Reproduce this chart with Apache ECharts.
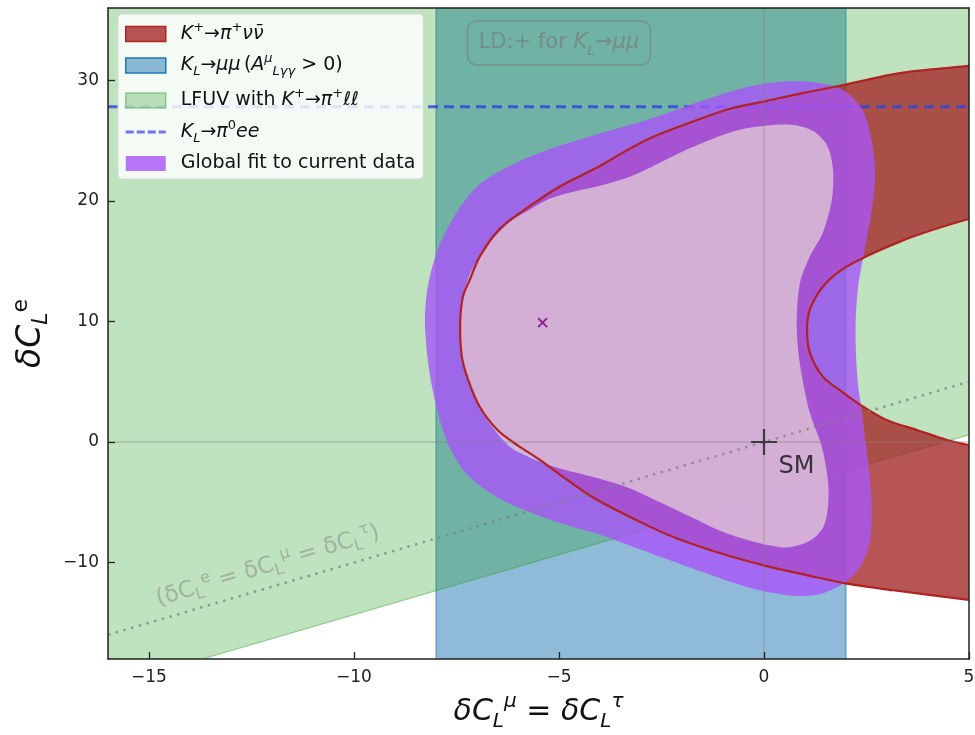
<!DOCTYPE html>
<html><head><meta charset="utf-8">
<script src="https://cdn.jsdelivr.net/npm/echarts@6/dist/echarts.min.js"></script>
<style>html,body{margin:0;padding:0;background:#fff}#c{width:975px;height:735px}</style>
</head><body><div id="c"></div>
<script>
// ---------- data ----------
const xRange = [-16, 5];
const yRange = [-18, 36];
const xTicks = [-15, -10, -5, 0, 5];
const yTicks = [-10, 0, 10, 20, 30];

// K+ -> pi+ nu nubar allowed band: outer and inner contours
const kpnnOuter = [[5.6,31.5],[5,31.2],[3.32,30.6],[1.78,29.5],[0.88,28.9],[0.07,28.3],[-0.76,27.7],[-1.56,26.8],[-2.78,25.2],[-3.5,23.9],[-4.0,22.9],[-4.98,21.2],[-5.7,19.6],[-6.44,17.7],[-6.93,15.4],[-7.17,13.5],[-7.34,12.1],[-7.41,9.9],[-7.37,7.1],[-7.22,5.2],[-6.93,2.9],[-6.5,1.0],[-6.0,-0.3],[-5.5,-1.4],[-4.98,-2.7],[-4.17,-4.6],[-2.95,-6.75],[-2.12,-8],[-0.9,-9.4],[0.02,-10.25],[1.12,-11.1],[2.02,-11.75],[3.15,-12.3],[5,-13.1],[5.6,-13.4]];
const kpnnInner = [[5.6,-0.6],[5,-0.25],[4.46,0.17],[3.73,1.0],[3.0,1.8],[2.34,3.1],[1.93,4.1],[1.44,5.4],[1.12,7.4],[1.05,9.3],[1.12,11],[1.44,12.9],[1.9,14.3],[2.5,15.4],[3.3,16.6],[4.12,17.6],[5,18.5],[5.6,19.0]];

// K_L -> mu mu band in dC_L^mu
const klmumuBand = [-8, 2];
// LFUV lower edge
const lfuvEdge = [[-13.7, -18], [5, 0.6]];
// K_L -> pi0 e e bound
const klpi0eeLevel = 27.8;

// global fit contours
const globalOuter = [[-8.27,10.2],[-8.22,7.4],[-8.12,5.0],[-7.95,2.4],[-7.7,-0.2],[-7.24,-2.7],[-6.5,-4.6],[-5.5,-6.1],[-4.7,-7.0],[-4.0,-7.67],[-3.34,-8.5],[-2.54,-9.5],[-1.73,-10.5],[-0.9,-11.5],[-0.1,-12.3],[0.71,-12.75],[1.37,-12.6],[1.93,-11.75],[2.34,-10.4],[2.59,-8.2],[2.63,-5.4],[2.59,-3.2],[2.49,-0.4],[2.39,2.4],[2.29,4.9],[2.24,7.7],[2.24,10.4],[2.31,13.25],[2.46,16],[2.63,19.3],[2.71,22.1],[2.63,24.9],[2.41,27.5],[1.93,29.2],[1.29,29.8],[0.46,29.9],[-0.34,29.5],[-1.56,28.25],[-2.78,26.8],[-4.0,25.6],[-5.22,24.3],[-6.2,22.9],[-7.0,21.2],[-7.59,18.5],[-7.98,15.75],[-8.2,12.9]];
const globalInner = [[-4.0,21.25],[-3.2,22.1],[-1.98,24.1],[-0.76,25.75],[0.07,26.25],[0.71,26.3],[1.2,25.8],[1.54,24.6],[1.68,22.7],[1.66,20.2],[1.44,17.4],[1.12,15.4],[0.88,13.25],[0.8,10.4],[0.83,7.7],[0.95,5.0],[1.12,2.4],[1.41,-0.4],[1.56,-3.2],[1.56,-5.4],[1.44,-7.1],[1.12,-8.2],[0.56,-8.75],[-0.1,-8.4],[-0.9,-7.6],[-1.73,-6.3],[-2.54,-5.0],[-3.34,-3.75],[-4.17,-2.9],[-4.98,-2.2],[-5.7,-1.3],[-6.2,-0.4],[-6.68,1.5],[-7.0,3.3],[-7.22,5.2],[-7.37,7.1],[-7.41,9.9],[-7.34,12.1],[-7.22,13.5],[-7.05,14.75],[-6.68,16.6],[-6.2,18.25],[-5.7,19.3],[-5.22,20.2],[-4.6,20.8]];

const bestFit = [[-5.4, 9.9]];
const smPoint = [[0, 0]];
const lfuvDiagonal = [[-16, -16], [5, 5]];
const ldLabelPos = [[-5.0, 33.1]];
const diagLabelPos = [[-12.1, -10.3]];

// ---------- styles ----------
const FONT = 'DejaVu Sans';
const C = {
  blue: 'rgba(31,119,180,0.5)', blueEdge: 'rgba(31,119,180,0.6)',
  green: 'rgba(44,160,44,0.3)', greenEdge: 'rgba(44,160,44,0.45)',
  red: 'rgba(165,42,42,0.8)', redEdge: '#b22222',
  purple: 'rgba(168,85,247,0.8)', pink: 'rgba(250,250,215,0.55)',
  dash: 'rgba(45,65,225,0.8)', gray: 'rgba(128,128,128,0.6)'
};

function poly(name, pts, fill, stroke, lw, z, smooth) {
  return {
    type: 'custom', name: name, z: z, clip: true, silent: true,
    itemStyle: { color: fill },
    data: [[0, 0]],
    renderItem: function (params, api) {
      return { type: 'polygon', shape: { points: pts.map(p => api.coord(p)), smooth: smooth || 0 },
        style: { fill: fill, stroke: stroke || null, lineWidth: lw || 0 } };
    }
  };
}
function pline(pts, stroke, lw, z) {
  return {
    type: 'custom', z: z, clip: true, silent: true, data: [[0, 0]],
    renderItem: function (params, api) {
      return { type: 'polyline', shape: { points: pts.map(p => api.coord(p)), smooth: 0.3 },
        style: { fill: null, stroke: stroke, lineWidth: lw } };
    }
  };
}

const greenPoly = [lfuvEdge[0], lfuvEdge[1], [xRange[1], yRange[1]], [xRange[0], yRange[1]], [xRange[0], yRange[0]]];
const bluePoly = [[klmumuBand[0], yRange[0] - 1], [klmumuBand[1], yRange[0] - 1], [klmumuBand[1], yRange[1] + 1], [klmumuBand[0], yRange[1] + 1]];
const redPoly = kpnnOuter.concat(kpnnInner);

const LF = 19;
const richBase = {
  n: { fontFamily: FONT, fontSize: LF, color: '#111', lineHeight: 26 },
  i: { fontFamily: FONT, fontSize: LF, fontStyle: 'italic', color: '#111', lineHeight: 26 },
  sup: { fontFamily: FONT, fontSize: 13, color: '#111', lineHeight: 14, verticalAlign: 'top' },
  isup: { fontFamily: FONT, fontSize: 13, fontStyle: 'italic', color: '#111', lineHeight: 14, verticalAlign: 'top' },
  isub: { fontFamily: FONT, fontSize: 13, fontStyle: 'italic', color: '#111', lineHeight: 14, verticalAlign: 'bottom' }
};
const legendText = {
  'Kpnn': '{i|K}{sup|+}{n|→}{i|π}{sup|+}{i|νν̄}',
  'KLmumu': '{i|K}{isub|L}{n|→}{i|μμ} {n|(}{i|A}{isup|μ}{isub|Lγγ}{n| > 0)}',
  'LFUV': '{n|LFUV with }{i|K}{sup|+}{n|→}{i|π}{sup|+}{i|ℓℓ}',
  'KLpi0ee': '{i|K}{isub|L}{n|→}{i|π}{sup|0}{i|ee}',
  'Global': '{n|Global fit to current data}'
};

const option = {
  backgroundColor: '#fff',
  animation: false,
  grid: { left: 108, right: 6, top: 8, bottom: 76, containLabel: false, outerBoundsMode: 'none' },
  xAxis: [{
    type: 'value', min: xRange[0], max: xRange[1], z: 50,
    axisLine: { show: true, onZero: false, lineStyle: { color: '#222', width: 1.5 } },
    axisTick: { show: true, inside: true, length: 7, customValues: xTicks, lineStyle: { color: '#222', width: 1.3 } },
    axisLabel: { customValues: xTicks, margin: 10, fontFamily: FONT, fontSize: 17, color: '#222', formatter: v => String(v).replace('-', '−') },
    splitLine: { show: false },
    name: '{i|δC}{isub|L}{isup|μ}{n| = }{i|δC}{isub|L}{isup|τ}', nameLocation: 'middle', nameGap: 33,
    nameTextStyle: { rich: {
      n: { fontFamily: FONT, fontSize: 30, color: '#111', lineHeight: 40 },
      i: { fontFamily: FONT, fontSize: 30, fontStyle: 'italic', color: '#111', lineHeight: 40 },
      isup: { fontFamily: FONT, fontSize: 20, fontStyle: 'italic', color: '#111', lineHeight: 22, verticalAlign: 'top' },
      isub: { fontFamily: FONT, fontSize: 20, fontStyle: 'italic', color: '#111', lineHeight: 22, verticalAlign: 'bottom' } } }
  }, {
    type: 'value', position: 'top', min: xRange[0], max: xRange[1], z: 50,
    axisLine: { show: true, onZero: false, lineStyle: { color: '#222', width: 1.5 } },
    axisTick: { show: false }, axisLabel: { show: false }, splitLine: { show: false }
  }],
  yAxis: [{
    type: 'value', min: yRange[0], max: yRange[1], z: 50,
    axisLine: { show: true, onZero: false, lineStyle: { color: '#222', width: 1.5 } },
    axisTick: { show: true, inside: true, length: 7, customValues: yTicks, lineStyle: { color: '#222', width: 1.3 } },
    axisLabel: { customValues: yTicks, margin: 9, fontFamily: FONT, fontSize: 17, color: '#222', formatter: v => String(v).replace('-', '−') },
    splitLine: { show: false },
    name: '{i|δC}{isub|L}{sup|e}', nameLocation: 'middle', nameGap: 46, nameRotate: 90,
    nameTextStyle: { rich: {
      i: { fontFamily: FONT, fontSize: 33, fontStyle: 'italic', color: '#111', lineHeight: 42 },
      sup: { fontFamily: FONT, fontSize: 22, color: '#111', lineHeight: 22, verticalAlign: 'top' },
      isub: { fontFamily: FONT, fontSize: 22, fontStyle: 'italic', color: '#111', lineHeight: 22, verticalAlign: 'bottom' } } }
  }, {
    type: 'value', position: 'right', min: yRange[0], max: yRange[1], z: 50,
    axisLine: { show: true, onZero: false, lineStyle: { color: '#222', width: 1.5 } },
    axisTick: { show: false }, axisLabel: { show: false }, splitLine: { show: false }
  }],
  legend: {
    orient: 'vertical', left: 118, top: 14, z: 100, selectedMode: false,
    padding: [7, 8, 6, 7], itemGap: 9, itemWidth: 40, itemHeight: 15,
    backgroundColor: 'rgba(255,255,255,0.82)', borderColor: '#d8d8d8', borderWidth: 1, borderRadius: 4,
    textStyle: { rich: richBase, padding: [0, 0, 0, 10] },
    formatter: name => legendText[name],
    data: [
      { name: 'Kpnn', icon: 'rect', itemStyle: { color: C.red, borderColor: C.redEdge, borderWidth: 1.5 } },
      { name: 'KLmumu', icon: 'rect', itemStyle: { color: C.blue, borderColor: '#1f77b4', borderWidth: 1.5 } },
      { name: 'LFUV', icon: 'rect', itemStyle: { color: C.green, borderColor: C.greenEdge, borderWidth: 1.5 } },
      { name: 'KLpi0ee', icon: 'path://M0,0h8v3h-8zM11,0h8v3h-8zM22,0h8v3h-8zM33,0h7v3h-7z', itemStyle: { color: 'rgba(90,90,235,0.85)', borderWidth: 0 } },
      { name: 'Global', icon: 'rect', itemStyle: { color: C.purple, borderWidth: 0 } }
    ]
  },
  series: [
    poly('KLmumu', bluePoly, C.blue, C.blueEdge, 1.2, 2),
    poly('LFUV', greenPoly, C.green, C.greenEdge, 1.2, 3),
    poly('Kpnn', redPoly, C.red, null, 0, 4, 0.2),
    { type: 'line', name: 'KLpi0ee', z: 5, symbol: 'none', silent: true,
      data: [[xRange[0], klpi0eeLevel], [xRange[1], klpi0eeLevel]],
      itemStyle: { color: C.dash },
      lineStyle: { color: C.dash, width: 3, type: [10, 6] } },
    poly('Global', globalOuter, C.purple, null, 0, 6, 0.3),
    poly('GlobalInner', globalInner, C.pink, null, 0, 7, 0.3),
    pline(kpnnOuter, C.redEdge, 2.2, 8),
    pline(kpnnInner, C.redEdge, 2.2, 8),
    { type: 'line', z: 9, symbol: 'none', silent: true, data: [[xRange[0], 0], [xRange[1], 0]], lineStyle: { color: 'rgba(128,128,128,0.55)', width: 1 } },
    { type: 'line', z: 9, symbol: 'none', silent: true, data: [[0, yRange[0]], [0, yRange[1]]], lineStyle: { color: 'rgba(128,128,128,0.55)', width: 1 } },
    { type: 'line', z: 10, symbol: 'none', silent: true, data: lfuvDiagonal, lineStyle: { color: 'rgba(128,128,128,0.75)', width: 2.5, type: [2.5, 5.5] } },
    { type: 'scatter', z: 11, silent: true, data: bestFit, symbol: 'path://M0,0L10,10M10,0L0,10', symbolSize: 9,
      itemStyle: { color: 'none', borderColor: '#800080', borderWidth: 2 } },
    { type: 'scatter', z: 11, silent: true, data: smPoint, symbol: 'path://M0,13L26,13M13,0L13,26', symbolSize: 26,
      itemStyle: { color: 'none', borderColor: '#222', borderWidth: 2.2 },
      label: { show: true, position: [30, 28], formatter: 'SM', fontFamily: FONT, fontSize: 24, color: '#111' } },
    { type: 'scatter', z: 11, silent: true, data: ldLabelPos, symbolSize: 0,
      label: { show: true, position: 'inside', formatter: '{n|LD:+ for }{i|K}{isub|L}{n|→}{i|μμ}',
        borderColor: 'rgba(120,120,120,0.55)', borderWidth: 2, borderRadius: 9, padding: [7, 11, 7, 11],
        rich: {
          n: { fontFamily: FONT, fontSize: 21, color: 'rgba(120,120,120,0.8)', lineHeight: 30 },
          i: { fontFamily: FONT, fontSize: 21, fontStyle: 'italic', color: 'rgba(120,120,120,0.8)', lineHeight: 30 },
          isub: { fontFamily: FONT, fontSize: 14, fontStyle: 'italic', color: 'rgba(120,120,120,0.8)', lineHeight: 16, verticalAlign: 'bottom' } } } },
    { type: 'scatter', z: 11, silent: true, data: diagLabelPos, symbolSize: 0,
      label: { show: true, position: 'inside', rotate: 17,
        formatter: '{n|(δC}{s|L}{u|e}{n| = δC}{s|L}{u|μ}{n| = δC}{s|L}{u|τ}{n|)}',
        rich: {
          n: { fontFamily: FONT, fontSize: 23, color: 'rgba(128,128,128,0.6)', lineHeight: 30 },
          u: { fontFamily: FONT, fontSize: 16, color: 'rgba(128,128,128,0.6)', lineHeight: 17, verticalAlign: 'top' },
          s: { fontFamily: FONT, fontSize: 16, color: 'rgba(128,128,128,0.6)', lineHeight: 17, verticalAlign: 'bottom' } } } }
  ]
};
const chart = echarts.init(document.getElementById('c'), null, { renderer: 'canvas' });
chart.setOption(option);
</script></body></html>
